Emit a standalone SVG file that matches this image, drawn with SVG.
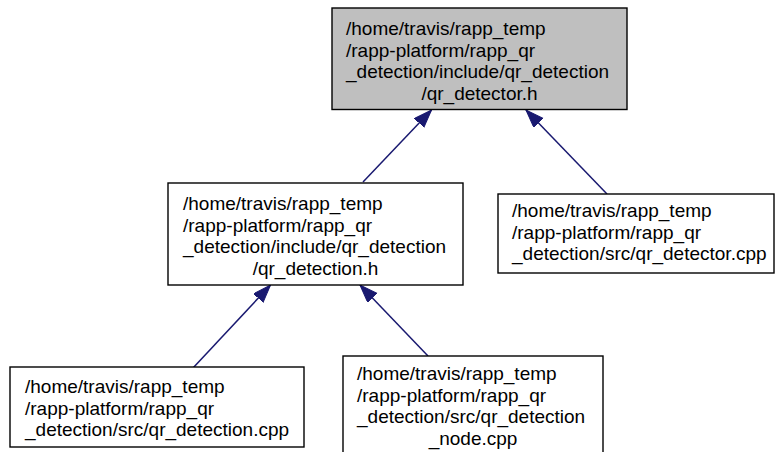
<svg xmlns="http://www.w3.org/2000/svg" width="776" height="452" viewBox="0 0 776 452">
<style>
.box{fill:#ffffff;stroke:#000000;stroke-width:1.4}
.cur{fill:#bfbfbf}
text{font-family:"Liberation Sans",Arial,sans-serif;font-size:19px;fill:#000000}
.c{text-anchor:middle}
.e{stroke:#191970;stroke-width:1.5;fill:none}
</style>
<defs>
<marker id="ah" markerUnits="userSpaceOnUse" markerWidth="20" markerHeight="14" refX="18" refY="6.5" orient="auto">
<path d="M0,0 L18,6.5 L0,13 z" fill="#191970" stroke="#191970" stroke-width="1"/>
</marker>
</defs>
<rect width="776" height="452" fill="#ffffff"/>
<g id="edges">
<line class="e" x1="363" y1="182" x2="431.5" y2="110" marker-end="url(#ah)"/>
<line class="e" x1="607" y1="194" x2="526" y2="110" marker-end="url(#ah)"/>
<line class="e" x1="193" y1="368" x2="270.5" y2="285" marker-end="url(#ah)"/>
<line class="e" x1="428" y1="356" x2="360" y2="285" marker-end="url(#ah)"/>
</g>
<g id="node1">
<rect class="box cur" x="332" y="8" width="295" height="101.5"/>
<text x="346" y="35">/home/travis/rapp_temp</text>
<text x="346" y="57">/rapp-platform/rapp_qr</text>
<text x="346" y="78">_detection/include/qr_detection</text>
<text class="c" x="479.5" y="100">/qr_detector.h</text>
</g>
<g id="node2">
<rect class="box" x="168" y="183" width="295" height="102"/>
<text x="183" y="210">/home/travis/rapp_temp</text>
<text x="183" y="232">/rapp-platform/rapp_qr</text>
<text x="183" y="253">_detection/include/qr_detection</text>
<text class="c" x="315.5" y="275">/qr_detection.h</text>
</g>
<g id="node3">
<rect class="box" x="498" y="194" width="276" height="79"/>
<text x="512" y="217">/home/travis/rapp_temp</text>
<text x="512" y="239">/rapp-platform/rapp_qr</text>
<text x="512" y="260">_detection/src/qr_detector.cpp</text>
</g>
<g id="node4">
<rect class="box" x="10" y="367" width="294" height="80"/>
<text x="25" y="393">/home/travis/rapp_temp</text>
<text x="25" y="415">/rapp-platform/rapp_qr</text>
<text x="25" y="436">_detection/src/qr_detection.cpp</text>
</g>
<g id="node5">
<rect class="box" x="343" y="356" width="260" height="104"/>
<text x="357" y="380">/home/travis/rapp_temp</text>
<text x="357" y="402">/rapp-platform/rapp_qr</text>
<text x="357" y="423">_detection/src/qr_detection</text>
<text class="c" x="473" y="445">_node.cpp</text>
</g>
</svg>
